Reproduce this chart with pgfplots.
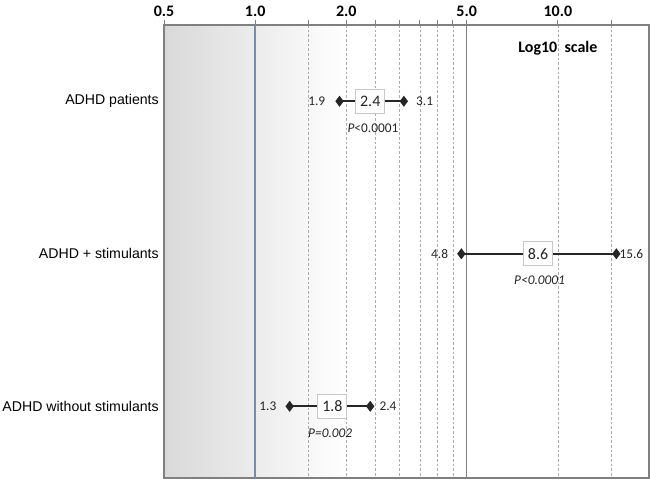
\documentclass[border=0pt]{standalone}
\usepackage{pgfplots}
\pgfplotsset{compat=1.18}
\usepackage{pgfplotstable}
\usepackage{fontspec}
\setmainfont{Carlito}
\newfontfamily\arialfont{Liberation Sans}
\definecolor{axisgray}{RGB}{128,128,128}
\definecolor{refblue}{RGB}{122,139,178}
\definecolor{boxgray}{RGB}{200,200,200}
\definecolor{ink}{RGB}{38,38,38}
\pgfplotstableread{
row est lo hi
1 2.4 1.9 3.1
2 8.6 4.8 15.6
3 1.8 1.3 2.4
}\citable
\begin{document}
\begin{tikzpicture}
\begin{axis}[
  set layers,
  xmode=log, scale only axis, width=363.75pt, height=339.75pt,
  xmin=0.5, xmax=20, ymin=0.5, ymax=3.47, y dir=reverse,
  axis line style={axisgray, line width=1.1pt},
  xtick={0.5,1,2,5,10}, xticklabels={0.5,1.0,2.0,5.0,10.0},
  minor xtick={1.5,2,2.5,3,3.5,4,4.5,10,15},
  xminorgrids,
  minor grid style={dash pattern=on 2pt off 1.5pt, gray!65, line width=0.5pt},
  xtick pos=right, xticklabel pos=right,
  tick align=outside, major tick length=3.75pt, minor tick length=3.75pt,
  every tick/.style={axisgray, line width=0.6pt},
  ytick={1,2,3}, yticklabels={ADHD patients, ADHD + stimulants, ADHD without stimulants},
  ytick style={draw=none},
  yticklabel style={font=\arialfont\fontsize{10.6}{12}\selectfont, inner sep=0pt, xshift=0pt},
  xticklabel style={font=\bfseries\fontsize{12}{14}\selectfont, inner sep=1pt, text=black, yshift=1.5pt},
  /pgf/number format/assume math mode=true,
  clip=false,
]
\begin{pgfonlayer}{axis background}
\fill[left color=gray!30, right color=white] (axis cs:0.5,0.5) rectangle (axis cs:2,3.47);
\end{pgfonlayer}
\coordinate (TL) at (axis cs:0.5,0.5);
\coordinate (BR) at (axis cs:20,3.47);
\draw[refblue, line width=1.2pt] (axis cs:1,0.5) -- (axis cs:1,3.47);
\draw[axisgray, line width=0.9pt] (axis cs:5,0.5) -- (axis cs:5,3.47);

% confidence intervals
\addplot[ink, line width=1.4pt, mark=diamond*, mark size=3pt, mark options={solid, fill=ink}] coordinates {(1.9,1) (3.1,1)};
\addplot[ink, line width=1.4pt, mark=diamond*, mark size=3pt, mark options={solid, fill=ink}] coordinates {(4.8,2) (15.6,2)};
\addplot[ink, line width=1.4pt, mark=diamond*, mark size=3pt, mark options={solid, fill=ink}] coordinates {(1.3,3) (2.4,3)};

% lower labels
\addplot[only marks, mark=none, nodes near coords, point meta=explicit symbolic,
  visualization depends on={\thisrow{sh} \as \sh},
  every node near coord/.append style={anchor=east, inner sep=0pt, xshift=-\sh, font=\fontsize{10}{12}\selectfont, text=ink}]
  table[x=x, y=y, meta=lab] {
x y sh lab
1.9 1 10.5 1.9
4.8 2 9.75 4.8
1.3 3 9.75 1.3
};
% upper labels
\addplot[only marks, mark=none, nodes near coords, point meta=explicit symbolic,
  visualization depends on={\thisrow{sh} \as \sh},
  every node near coord/.append style={anchor=west, inner sep=0pt, xshift=\sh, font=\fontsize{10}{12}\selectfont, text=ink}]
  table[x=x, y=y, meta=lab] {
x y sh lab
3.1 1 9 3.1
15.6 2 2.25 15.6
2.4 3 6.75 2.4
};
% estimate boxes
\addplot[only marks, mark=none, nodes near coords, point meta=explicit symbolic,
  every node near coord/.append style={anchor=center, draw=boxgray, fill=white, line width=0.7pt,
    font=\fontsize{12}{14}\selectfont, text=ink, minimum width=21.75pt, minimum height=18pt, inner sep=1pt}]
  table[x=est, y=row, meta=est] {\citable};
% p values
\addplot[only marks, mark=none, nodes near coords, point meta=explicit symbolic,
  every node near coord/.append style={anchor=center, yshift=-20pt, inner sep=0pt,
    font=\fontsize{10}{12}\selectfont, text=ink}]
  coordinates {(2.45,1) [\textit{P}<0.0001] (8.7,2) [\textit{P<0.0001}] (1.77,3) [\textit{P=0.002}]};

\node[font=\bfseries\fontsize{12}{14}\selectfont, text=black] at (axis cs:10,0.65) {Log10\ \ scale};
\end{axis}
\pgfresetboundingbox
\path ([xshift=-123pt, yshift=18.75pt]TL) rectangle ([xshift=0.75pt, yshift=-0.75pt]BR);
\end{tikzpicture}
\end{document}
